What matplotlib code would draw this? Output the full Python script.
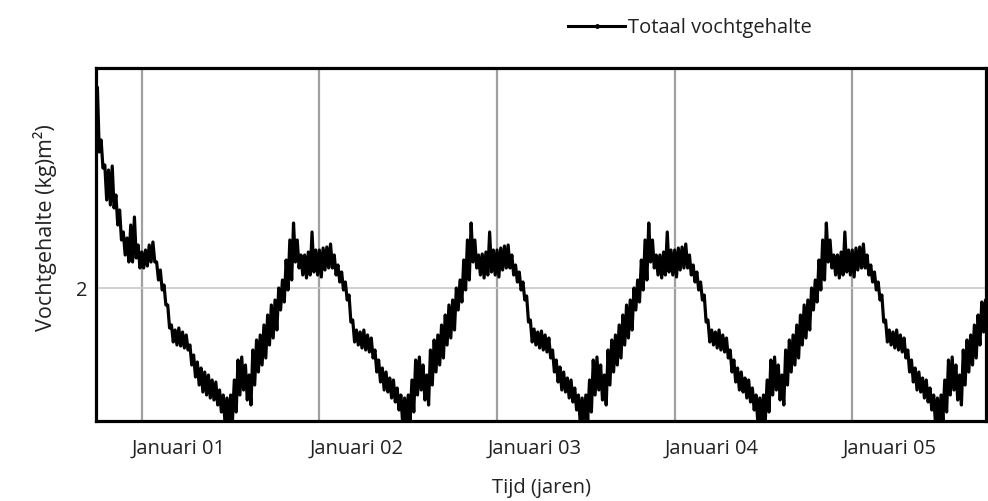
import numpy as np
import matplotlib
matplotlib.use('Agg')
import matplotlib.pyplot as plt
from matplotlib.lines import Line2D

plt.rcParams['font.family'] = ['Open Sans', 'DejaVu Sans']

# Samples every 1/48 year; each sample has an upper and lower value of the noisy band
STAP = 1 / 48
START = 0.75  # early October of year 00

# Year 00 (Oct - Dec), kg/m2
boven_00 = [3.00, 2.74, 2.615, 2.59, 2.61, 2.465, 2.39, 2.28, 2.25, 2.315, 2.355, 2.215]
onder_00 = [2.68, 2.60, 2.44, 2.415, 2.40, 2.315, 2.24, 2.165, 2.13, 2.13, 2.15, 2.10]

boven_01 = [2.18, 2.19, 2.215, 2.23, 2.13, 2.09, 2.015, 1.915, 1.815, 1.79, 1.80, 1.78,
            1.765, 1.715, 1.665, 1.63, 1.60, 1.58, 1.565, 1.54, 1.53, 1.49, 1.465, 1.45,
            1.465, 1.54, 1.64, 1.655, 1.615, 1.565, 1.69, 1.74, 1.765, 1.815, 1.865, 1.915,
            1.94, 2.00, 2.04, 2.14, 2.24, 2.325, 2.24, 2.165, 2.165, 2.18, 2.28, 2.19]
onder_01 = [2.10, 2.11, 2.13, 2.13, 2.04, 1.99, 1.915, 1.80, 1.73, 1.715, 1.71, 1.70,
            1.69, 1.615, 1.555, 1.515, 1.48, 1.465, 1.45, 1.44, 1.415, 1.38, 1.32, 1.32,
            1.34, 1.38, 1.465, 1.49, 1.44, 1.415, 1.515, 1.58, 1.615, 1.65, 1.715, 1.75,
            1.79, 1.89, 1.93, 1.99, 2.04, 2.13, 2.10, 2.065, 2.05, 2.065, 2.08, 2.065]

boven_02 = [2.19, 2.20, 2.205, 2.22, 2.165, 2.115, 2.08, 2.03, 1.965, 1.84, 1.79, 1.78,
            1.79, 1.765, 1.75, 1.69, 1.64, 1.60, 1.58, 1.55, 1.54, 1.50, 1.465, 1.45,
            1.465, 1.54, 1.64, 1.655, 1.615, 1.565, 1.69, 1.74, 1.765, 1.815, 1.865, 1.915,
            1.94, 2.00, 2.04, 2.14, 2.24, 2.325, 2.24, 2.165, 2.17, 2.18, 2.28, 2.19]
onder_02 = [2.055, 2.09, 2.10, 2.10, 2.065, 2.03, 1.99, 1.94, 1.83, 1.73, 1.715, 1.70,
            1.69, 1.68, 1.65, 1.58, 1.53, 1.49, 1.48, 1.45, 1.43, 1.39, 1.32, 1.32,
            1.34, 1.38, 1.465, 1.49, 1.44, 1.415, 1.515, 1.58, 1.615, 1.65, 1.715, 1.75,
            1.79, 1.89, 1.93, 1.99, 2.04, 2.13, 2.10, 2.065, 2.05, 2.065, 2.08, 2.065]

boven_03 = [2.19, 2.20, 2.21, 2.215, 2.165, 2.115, 2.08, 2.03, 1.96, 1.84, 1.795, 1.78,
            1.785, 1.765, 1.75, 1.69, 1.64, 1.605, 1.58, 1.55, 1.54, 1.50, 1.465, 1.45,
            1.465, 1.54, 1.64, 1.655, 1.615, 1.565, 1.69, 1.74, 1.765, 1.815, 1.865, 1.915,
            1.94, 2.00, 2.04, 2.14, 2.24, 2.325, 2.24, 2.165, 2.165, 2.18, 2.28, 2.19]
onder_03 = [2.055, 2.09, 2.10, 2.10, 2.065, 2.03, 1.99, 1.94, 1.83, 1.73, 1.715, 1.70,
            1.69, 1.68, 1.65, 1.58, 1.53, 1.49, 1.48, 1.45, 1.43, 1.39, 1.32, 1.32,
            1.34, 1.38, 1.465, 1.49, 1.44, 1.415, 1.515, 1.58, 1.615, 1.65, 1.715, 1.75,
            1.79, 1.89, 1.93, 1.99, 2.04, 2.13, 2.10, 2.065, 2.05, 2.065, 2.08, 2.065]

boven_04 = [2.19, 2.20, 2.205, 2.22, 2.165, 2.115, 2.08, 2.03, 1.965, 1.84, 1.79, 1.78,
            1.79, 1.765, 1.75, 1.69, 1.64, 1.60, 1.58, 1.55, 1.54, 1.50, 1.465, 1.45,
            1.465, 1.54, 1.64, 1.655, 1.615, 1.565, 1.69, 1.74, 1.765, 1.815, 1.865, 1.915,
            1.94, 2.00, 2.04, 2.14, 2.24, 2.325, 2.24, 2.165, 2.165, 2.18, 2.28, 2.19]
onder_04 = [2.055, 2.09, 2.10, 2.10, 2.065, 2.03, 1.99, 1.94, 1.83, 1.73, 1.715, 1.70,
            1.69, 1.68, 1.65, 1.58, 1.53, 1.49, 1.48, 1.45, 1.43, 1.39, 1.32, 1.32,
            1.34, 1.38, 1.465, 1.49, 1.44, 1.415, 1.515, 1.58, 1.615, 1.65, 1.715, 1.75,
            1.79, 1.89, 1.93, 1.99, 2.04, 2.13, 2.10, 2.065, 2.05, 2.065, 2.08, 2.065]

# Year 05 runs until about September
boven_05 = [2.19, 2.20, 2.205, 2.22, 2.165, 2.115, 2.08, 2.03, 1.965, 1.84, 1.79, 1.78,
            1.79, 1.765, 1.75, 1.69, 1.64, 1.60, 1.58, 1.55, 1.54, 1.50, 1.465, 1.45,
            1.465, 1.54, 1.64, 1.655, 1.615, 1.565, 1.69, 1.74, 1.765, 1.815, 1.865, 1.93,
            1.94]
onder_05 = [2.055, 2.09, 2.10, 2.10, 2.065, 2.03, 1.99, 1.94, 1.83, 1.73, 1.715, 1.70,
            1.69, 1.68, 1.65, 1.58, 1.53, 1.49, 1.48, 1.45, 1.43, 1.39, 1.32, 1.32,
            1.34, 1.38, 1.465, 1.49, 1.44, 1.415, 1.515, 1.58, 1.615, 1.65, 1.715, 1.78,
            1.79]

jaren = [1, 2, 3, 4, 5]
jaar_labels = ['Januari 01', 'Januari 02', 'Januari 03', 'Januari 04', 'Januari 05']

boven = np.array(boven_00 + boven_01 + boven_02 + boven_03 + boven_04 + boven_05)
onder = np.array(onder_00 + onder_01 + onder_02 + onder_03 + onder_04 + onder_05)
tijd = START + STAP * np.arange(len(boven))

# zigzag between upper and lower value to get the dense noisy band
x = np.empty(2 * len(tijd))
y = np.empty(2 * len(tijd))
x[0::2] = tijd
x[1::2] = tijd + STAP / 2
y[0::2] = boven
y[1::2] = onder

fig = plt.figure(figsize=(9.88, 5.01), dpi=100)
ax = fig.add_axes([96 / 988, 1 - 421 / 501, 890 / 988, 353 / 501])

ax.plot(x, y, color='black', lw=2.3, zorder=3)

ax.set_xlim(0.742, 5.753)
ax.set_ylim(1.335, 3.10)

ax.set_xticks(jaren)
ax.set_xticklabels([])
ax.set_xticks([j + 0.21 for j in jaren], minor=True)
ax.set_xticklabels(jaar_labels, minor=True)
ax.set_yticks([2])
ax.set_yticklabels(['2'])
ax.tick_params(axis='x', which='both', length=0, pad=13, labelsize=14.5, labelcolor='#222222')
ax.tick_params(axis='y', length=0, pad=6, labelsize=14.5, labelcolor='#222222')

ax.grid(axis='x', which='major', color='#a0a0a0', lw=1.6, zorder=1)
ax.grid(axis='y', color='#c8c8c8', lw=1.2, zorder=1)

for s in ax.spines.values():
    s.set_linewidth(2.3)
    s.set_color('black')
    s.set_zorder(4)

ax.set_xlabel('Tijd (jaren)', fontsize=14.5, color='#222222', labelpad=14)
ax.set_ylabel('Vochtgehalte (kg)m²)', fontsize=15.5, color='#222222')
ax.yaxis.set_label_coords(-0.044, 0.547)

proxy = Line2D([], [], color='black', lw=2.2, marker='o', markersize=2.5)
fig.legend(handles=[proxy], labels=['Totaal vochtgehalte'], loc='center left',
           bbox_to_anchor=(568 / 988, 1 - 28 / 501), frameon=False, fontsize=14.5,
           handlelength=2.85, handletextpad=0.15, borderpad=0, borderaxespad=0,
           labelcolor='#222222')

fig.savefig('out.png', dpi=100, facecolor='white')
